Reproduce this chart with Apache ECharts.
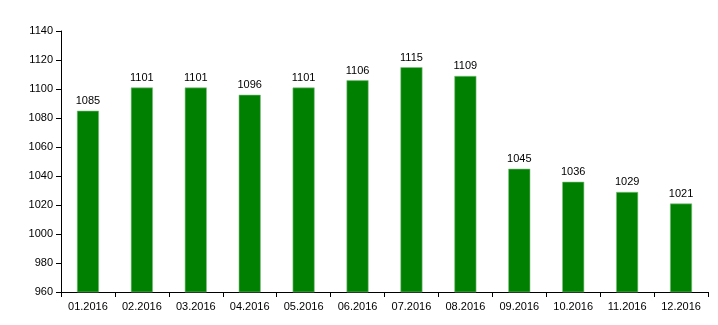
<!DOCTYPE html>
<html><head><meta charset="utf-8">
<script src="https://cdn.jsdelivr.net/npm/echarts@6/dist/echarts.min.js"></script>
<style>html,body{margin:0;padding:0;background:#fff}#c{width:718px;height:325px}</style>
</head><body><div id="c"></div>
<script>
const categories = ["01.2016","02.2016","03.2016","04.2016","05.2016","06.2016","07.2016","08.2016","09.2016","10.2016","11.2016","12.2016"];
const values = [1085,1101,1101,1096,1101,1106,1115,1109,1045,1036,1029,1021];
const chart = echarts.init(document.getElementById('c'));
const font = 'Liberation Sans, Arial, sans-serif';
chart.setOption({
  animation:false,
  grid:{left:61,right:10,top:31,bottom:33},
  xAxis:{type:'category',data:categories,
    axisLine:{lineStyle:{color:'#000',width:1}},
    axisTick:{show:true,length:5,lineStyle:{color:'#000'}},
    axisLabel:{color:'#000',fontSize:11,fontFamily:font,margin:9}},
  yAxis:{type:'value',min:960,max:1140,interval:20,
    axisLine:{show:true,lineStyle:{color:'#000'}},
    axisTick:{show:true,length:5,lineStyle:{color:'#000'}},
    splitLine:{show:false},
    axisLabel:{color:'#000',fontSize:11,fontFamily:font,margin:8,formatter:v=>String(v)}},
  series:[{type:'bar',data:values,barWidth:22,
    itemStyle:{color:'#008000',borderColor:'#80c080',borderWidth:0.6},
    label:{show:true,position:'top',distance:4,color:'#000',fontSize:11,fontFamily:font}}]
});
</script></body></html>
